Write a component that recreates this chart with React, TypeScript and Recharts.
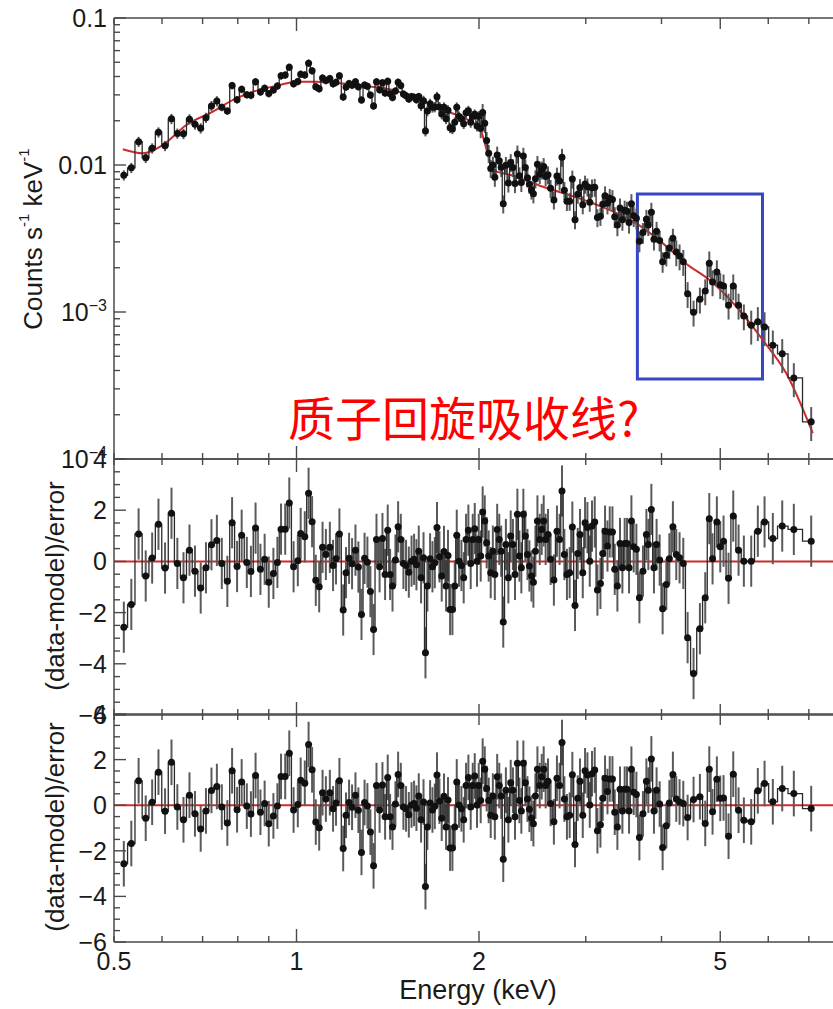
import React from 'react'
import { ComposedChart, Line, XAxis, YAxis, ErrorBar, ReferenceLine, ReferenceArea } from 'recharts'

// bin centres, keV
const energy = [
  0.519, 0.534, 0.549, 0.564, 0.578, 0.592, 0.607, 0.622, 0.636, 0.651, 0.666, 0.680, 0.695, 0.709, 0.724, 0.739,
  0.753, 0.769, 0.783, 0.798, 0.812, 0.828, 0.841, 0.856, 0.872, 0.886, 0.900, 0.916, 0.930, 0.943, 0.958, 0.973,
  0.989, 1.005,
  1.016, 1.032, 1.047, 1.061, 1.076, 1.090, 1.104, 1.118, 1.135, 1.149, 1.162, 1.177, 1.194, 1.207, 1.221, 1.235,
  1.251, 1.265, 1.280, 1.295, 1.309, 1.324, 1.340, 1.355, 1.371, 1.386, 1.400, 1.414, 1.427, 1.440, 1.456, 1.471,
  1.486, 1.501, 1.516, 1.532, 1.548, 1.563, 1.577, 1.591, 1.605, 1.620, 1.632, 1.644, 1.661, 1.676, 1.691, 1.705,
  1.721, 1.736, 1.751, 1.765, 1.778, 1.792, 1.808, 1.824, 1.838, 1.854, 1.871, 1.887, 1.904, 1.921, 1.938, 1.953,
  1.968, 1.985,
  1.998, 2.013, 2.028, 2.044, 2.059, 2.075, 2.091, 2.108, 2.124, 2.143, 2.160, 2.176, 2.193, 2.215, 2.236, 2.256,
  2.275, 2.293, 2.314, 2.332, 2.349, 2.367, 2.385, 2.404, 2.422, 2.441, 2.459, 2.478, 2.497, 2.519, 2.538, 2.557,
  2.576, 2.599, 2.625, 2.658, 2.689, 2.716, 2.741, 2.766, 2.793, 2.822, 2.851, 2.880, 2.910, 2.935, 2.966, 2.992,
  3.019, 3.046, 3.072, 3.104, 3.136, 3.172, 3.200, 3.228, 3.258, 3.286, 3.320, 3.349, 3.383, 3.417, 3.448, 3.478,
  3.509, 3.536, 3.568, 3.599, 3.636, 3.678, 3.728, 3.777, 3.805, 3.849, 3.887, 3.926,
  3.972, 4.017, 4.074, 4.121, 4.177, 4.231, 4.284, 4.345, 4.417, 4.518, 4.628, 4.723, 4.796, 4.856, 4.936, 5.000,
  5.063, 5.160, 5.253, 5.360, 5.469, 5.624, 5.767, 5.916, 6.105, 6.327, 6.612, 7.063,
]

// counts s^-1 keV^-1 per bin
const rate = [
  0.00852, 0.00957, 0.0144, 0.0112, 0.0130, 0.0167, 0.0135, 0.0206, 0.0164, 0.0163, 0.0205, 0.0189, 0.0178, 0.0210,
  0.0252, 0.0272, 0.0247, 0.0233, 0.0347, 0.0278, 0.0327, 0.0301, 0.0298, 0.0368, 0.0314, 0.0333, 0.0306, 0.0324,
  0.0345, 0.0404, 0.0409, 0.0463, 0.0357, 0.0370,
  0.0415, 0.0410, 0.0493, 0.0437, 0.0340, 0.0330, 0.0390, 0.0376, 0.0387, 0.0357, 0.0365, 0.0404, 0.0290, 0.0339,
  0.0358, 0.0349, 0.0368, 0.0341, 0.0277, 0.0350, 0.0343, 0.0299, 0.0252, 0.0368, 0.0325, 0.0363, 0.0309, 0.0371,
  0.0305, 0.0288, 0.0319, 0.0366, 0.0347, 0.0304, 0.0296, 0.0281, 0.0292, 0.0289, 0.0278, 0.0292, 0.0253, 0.0274,
  0.0170, 0.0233, 0.0261, 0.0247, 0.0248, 0.0291, 0.0248, 0.0222, 0.0247, 0.0206, 0.0236, 0.0179, 0.0176, 0.0195,
  0.0247, 0.0214, 0.0206, 0.0191, 0.0227, 0.0234, 0.0195, 0.0215, 0.0221, 0.0184,
  0.0215, 0.0177, 0.0228, 0.0192, 0.0147, 0.0120, 0.00948, 0.0100, 0.00826, 0.0117, 0.0107, 0.00965, 0.00544,
  0.00995, 0.00755, 0.0104, 0.00960, 0.00748, 0.0119, 0.00846, 0.00761, 0.0115, 0.00960, 0.00820, 0.00740, 0.00676,
  0.00637, 0.00806, 0.0101, 0.00864, 0.00926, 0.00978, 0.00836, 0.00859, 0.00694, 0.00579, 0.00842, 0.00778, 0.0113,
  0.00673, 0.00566, 0.00567, 0.00803, 0.00425, 0.00633, 0.00703, 0.00537, 0.00742, 0.00710, 0.00559, 0.00700,
  0.00706, 0.00439, 0.00448, 0.00540, 0.00617, 0.00549, 0.00593, 0.00582, 0.00445, 0.00390, 0.00510, 0.00425,
  0.00493, 0.00485, 0.00406, 0.00546, 0.00451, 0.00435, 0.00303, 0.00347, 0.00427, 0.00391, 0.00477, 0.00312, 0.00354,
  0.00307, 0.00220, 0.00243, 0.00273, 0.00317, 0.00256, 0.00240, 0.00220, 0.00133, 0.000995, 0.00122, 0.00139,
  0.00215, 0.00160, 0.00187, 0.00153, 0.00150, 0.00111, 0.00150, 0.00111, 0.000938, 0.000811, 0.000857, 0.000791,
  0.000594, 0.000519, 0.000356, 0.000179,
]

// (data-model)/error against the continuum-only model
const resid = [
  -2.57, -1.68, 1.07, -0.57, 0.13, 1.45, -0.26, 1.88, -0.08, -0.64, 0.44, -0.38, -1.04, -0.25, 0.65, 0.82, -0.08,
  -0.78, 1.51, -0.2, 1.02, -0.04, -0.39, 1.3, -0.31, 0.08, -0.81, -0.47, -0.04, 1.26, 1.26, 2.28, -0.21, 0.03,
  1.09, 0.96, 2.66, 1.55, -0.74, -0.99, 0.55, 0.27, 0.55, -0.16, 0.1, 1.07, -1.9, -0.44, 0.12, -0.09, 0.44, -0.22,
  -2.07, 0.12, -0.03, -1.18, -2.66, 0.86, -0.21, 0.89, -0.51, 1.22, -0.51, -0.96, 0.05, 1.35, 0.86, -0.08, -0.16,
  -0.42, 0.01, 0.08, -0.13, 0.4, -0.64, 0.14, -3.57, -0.96, 0.1, -0.21, -0.05, 1.32, 0.18, -0.57, 0.39, -0.96, 0.23,
  -1.88, -1.88, -0.96, 1.02, 0.01, -0.16, -0.64, 0.86, 1.22, -0.08, 0.86, 1.28, 0.01,
  0.86, 0.21, 1.93, 1.58, 0.73, 0.21, -0.44, 0.4, -0.51, 1.25, 0.86, 0.4, -2.37, 0.66, -0.64, 0.99, 0.66, -0.51,
  1.84, 0.21, -0.25, 1.84, 0.99, 0.27, -0.18, -0.57, -0.81, 0.4, 1.58, 0.86, 1.25, 1.58, 0.86, 1.05, 0.08, -0.73,
  1.18, 0.86, 2.75, 0.27, -0.51, -0.44, 1.34, -1.72, 0.31, 1.05, -0.44, 1.51, 1.32, 0.01, 1.38, 1.54, -1.12, -0.86,
  0.31, 1.18, 0.6, 1.15, 1.15, -0.31, -0.96, 0.7, -0.25, 0.7, 0.7, -0.25, 1.58, 0.57, 0.47, -1.42, -0.38, 1.05,
  0.66, 2.03, -0.25, 0.66,
  0.05, -1.85, -0.9, 0.1, 1.35, 0.27, 0.14, -0.08, -2.98, -4.38, -2.63, -1.42, 1.67, 0.1, 1.54, 0.57, 0.79, -0.66,
  1.77, 0.44, 0.01, 0.01, 1.18, 1.54, 0.89, 1.38, 1.25, 0.79,
]

// with the absorption line added, bins from 4.35 keV up change; below that they are unchanged
const LINE_START = 183
const residWithLine = [
  0.07, -0.54, 0.25, 0.37, -0.8, 1.58, -0.29, 1.14, 0.3, 0.32, -1.36, 1.36, -0.22, -0.66, -0.73, 0.63, 0.95, 0.15,
  0.73, 0.51, -0.15,
]

// best-fit continuum model
const modelEnergy = [
  0.517, 0.558, 0.602, 0.658, 0.728, 0.786, 0.848, 0.938, 1.0, 1.079, 1.149, 1.305, 1.48, 1.538, 1.745, 1.932,
  2.005, 2.059, 2.108, 2.256, 2.55, 3.083, 3.636, 4.022, 4.386, 4.801, 5.313, 5.877, 6.424, 7.106,
]
const modelRate = [
  0.0128, 0.0120, 0.01368, 0.0187, 0.0231, 0.0277, 0.0315, 0.0350, 0.0369, 0.0369, 0.0363, 0.0344, 0.0314, 0.0295,
  0.0237, 0.0199, 0.0179, 0.0127, 0.00925, 0.00855, 0.00711, 0.00549, 0.00401, 0.00293, 0.00214, 0.00165, 0.00109,
  0.000645, 0.000383, 0.00015,
]

// fractional 1-sigma error on the rate: [upper band edge keV, fraction]
const rateErrBand: [number, number][] = [
  [0.75, 0.08], [1.6, 0.06], [2.0, 0.08], [3.2, 0.14], [4.2, 0.16], [5.5, 0.2], [8, 0.26],
]
const RESID_ERR = 1

const highlightBox = { x1: 3.65, x2: 5.87, y1: 0.00035, y2: 0.00635 }

const xTicks = [0.5, 0.6, 0.7, 0.8, 0.9, 1, 2, 3, 4, 5, 6, 7, 8]
const xTickLabels = [0.5, 1, 2, 5]
const rateLabels = [
  { value: 0.1, base: '0.1', exp: '' },
  { value: 0.01, base: '0.01', exp: '' },
  { value: 0.001, base: '10', exp: '−3' },
  { value: 0.0001, base: '10', exp: '−4' },
]
const residLabels = [4, 2, 0, -2, -4, -6]

const rateTicks: number[] = []
for (const d of [1e-4, 1e-3, 1e-2]) for (let k = 1; k < 10; k++) rateTicks.push(d * k)
rateTicks.push(0.1)
const residTicks: number[] = []
for (let v = -6; v <= 4; v += 0.5) residTicks.push(v)

const W = 844
const H = 1009
const LEFT = 114
const FRAME = '#4a4a4a'
const INK = '#1a1a1a'
const RED = '#cf2a2a'
const FONT = '"Liberation Sans", Arial, Helvetica, sans-serif'

const bandFrac = (e: number) => (rateErrBand.find(([edge]) => e < edge) || rateErrBand[rateErrBand.length - 1])[1]

const spectrum = energy.map((e, i) => ({ e, c: rate[i], cErr: rate[i] * bandFrac(e) }))
const model = modelEnergy.map((e, i) => ({ e, m: modelRate[i] }))
const residCont = energy.map((e, i) => ({ e, r: resid[i], rErr: RESID_ERR }))
const residLine = energy.map((e, i) => ({
  e,
  r: i < LINE_START ? resid[i] : residWithLine[i - LINE_START],
  rErr: RESID_ERR,
}))

const xLen = (v: number) => (v === 1 ? 13 : v === 2 || v === 5 ? 11 : 6)

const bottomTick = (withLabels: boolean) => (p: any) => {
  const v = p.payload.value
  return (
    <g>
      <line x1={p.x} y1={p.y} x2={p.x} y2={p.y - xLen(v)} stroke={FRAME} strokeWidth={1.4} />
      {withLabels && xTickLabels.includes(v) && (
        <text x={p.x} y={p.y + 28} textAnchor="middle" fontSize={25} fontFamily={FONT} fill={INK}>
          {v}
        </text>
      )}
    </g>
  )
}

const topTick = (p: any) => (
  <line x1={p.x} y1={p.y} x2={p.x} y2={p.y + xLen(p.payload.value)} stroke={FRAME} strokeWidth={1.4} />
)

const rateTick = (p: any) => {
  const v = p.payload.value
  const lab = rateLabels.find((l) => Math.abs(l.value - v) / v < 1e-6)
  return (
    <g>
      <line x1={p.x} y1={p.y} x2={p.x + (lab ? 12 : 6)} y2={p.y} stroke={FRAME} strokeWidth={1.4} />
      {lab && (
        <text x={p.x - 7} y={p.y} dy={9} textAnchor="end" fontSize={25} fontFamily={FONT} fill={INK}>
          {lab.base}
          {lab.exp && (
            <tspan dy={-10} fontSize={16}>
              {lab.exp}
            </tspan>
          )}
        </text>
      )}
    </g>
  )
}

const residTick = (p: any) => {
  const v = p.payload.value
  const major = residLabels.includes(v)
  return (
    <g>
      <line x1={p.x} y1={p.y} x2={p.x + (major ? 12 : 6)} y2={p.y} stroke={FRAME} strokeWidth={1.4} />
      {major && (
        <text x={p.x - 7} y={p.y} dy={9} textAnchor="end" fontSize={25} fontFamily={FONT} fill={INK}>
          {v < 0 ? `−${-v}` : v}
        </text>
      )}
    </g>
  )
}

const axisLine = { stroke: FRAME, strokeWidth: 1.5 }

// x axes need a non-zero height to render; one pixel is taken back from the margins
const xAxes = (withLabels: boolean) => [
  <XAxis
    key="xb"
    dataKey="e"
    type="number"
    scale="log"
    domain={[0.5, 8]}
    allowDataOverflow
    ticks={xTicks}
    interval={0}
    height={1}
    tickSize={0}
    tickMargin={0}
    tickLine={false}
    axisLine={axisLine}
    tick={bottomTick(withLabels)}
  />,
  <XAxis
    key="xt"
    xAxisId="top"
    orientation="top"
    dataKey="e"
    type="number"
    scale="log"
    domain={[0.5, 8]}
    allowDataOverflow
    ticks={xTicks}
    interval={0}
    height={1}
    tickSize={0}
    tickMargin={0}
    tickLine={false}
    axisLine={axisLine}
    tick={topTick}
  />,
]

const residYAxis = (
  <YAxis
    type="number"
    domain={[-6, 4]}
    allowDataOverflow
    ticks={residTicks}
    interval={0}
    width={LEFT}
    tickSize={0}
    tickMargin={0}
    tickLine={false}
    axisLine={axisLine}
    tick={residTick}
  />
)

const dataLine = (data: any[], yKey: string, errKey: string) => (
  <Line
    data={data}
    dataKey={yKey}
    type="step"
    stroke="#2b2b2b"
    strokeWidth={1.3}
    dot={{ r: 3.5, fill: '#111', stroke: 'none' }}
    activeDot={false}
    isAnimationActive={false}
  >
    <ErrorBar dataKey={errKey} direction="y" width={0} stroke="#5a5a5a" strokeWidth={2} isAnimationActive={false} />
  </Line>
)

const panelMargin = (top: number, bottom: number) => ({ top: top - 1, right: 0, bottom: H - bottom - 1, left: 0 })

function ResidualPanel({ data, top, bottom }: { data: any[]; top: number; bottom: number }) {
  return (
    <div style={{ position: 'absolute', left: 0, top: 0 }}>
      <ComposedChart width={W} height={H} margin={panelMargin(top, bottom)}>
        {xAxes(bottom > 900)}
        {residYAxis}
        <ReferenceLine y={0} stroke={RED} strokeWidth={2} ifOverflow="hidden" />
        {dataLine(data, 'r', 'rErr')}
      </ComposedChart>
    </div>
  )
}

export default function App() {
  return (
    <div
      style={{ position: 'fixed', left: 0, top: 0, width: 833, height: H, overflow: 'hidden', background: '#fff' }}
    >
      <div style={{ position: 'absolute', left: 0, top: 0 }}>
        <ComposedChart width={W} height={H} margin={panelMargin(18, 459)}>
          {xAxes(false)}
          <YAxis
            type="number"
            scale="log"
            domain={[0.0001, 0.1]}
            allowDataOverflow
            ticks={rateTicks}
            interval={0}
            width={LEFT}
            tickSize={0}
            tickMargin={0}
            tickLine={false}
            axisLine={axisLine}
            tick={rateTick}
          />
          <Line
            data={model}
            dataKey="m"
            type="monotone"
            stroke={RED}
            strokeWidth={2}
            dot={false}
            activeDot={false}
            isAnimationActive={false}
          />
          {dataLine(spectrum, 'c', 'cErr')}
          <ReferenceArea
            {...highlightBox}
            fill="none"
            fillOpacity={0}
            stroke="#3846c6"
            strokeWidth={3}
            ifOverflow="visible"
          />
        </ComposedChart>
      </div>

      <ResidualPanel data={residCont} top={459} bottom={715} />
      <ResidualPanel data={residLine} top={714} bottom={942} />

      <svg
        width={833}
        height={H}
        style={{ position: 'absolute', left: 0, top: 0, pointerEvents: 'none' }}
        fontFamily={FONT}
        fill={INK}
      >
        <text transform="translate(33,239) rotate(-90)" textAnchor="middle" dominantBaseline="central" fontSize={26}>
          Counts s
          <tspan dy={-10} fontSize={15}>
            -1
          </tspan>
          <tspan dy={10}> keV</tspan>
          <tspan dy={-10} fontSize={15}>
            -1
          </tspan>
        </text>
        <text transform="translate(55,586) rotate(-90)" textAnchor="middle" dominantBaseline="central" fontSize={26}>
          (data-model)/error
        </text>
        <text transform="translate(55,827) rotate(-90)" textAnchor="middle" dominantBaseline="central" fontSize={26}>
          (data-model)/error
        </text>
        <text x={478} y={999} textAnchor="middle" fontSize={27}>
          Energy (keV)
        </text>
        <text x={288} y={436} fontSize={47} fill="#ff0000" fontFamily='"Noto Sans CJK SC", sans-serif'>
          质子回旋吸收线?
        </text>
      </svg>
    </div>
  )
}
